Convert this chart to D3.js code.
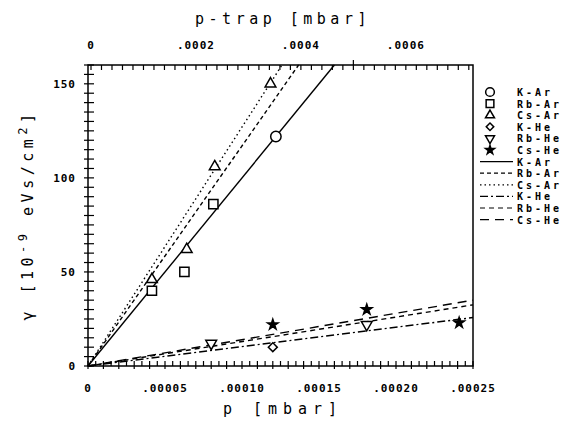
<!DOCTYPE html>
<html>
<head>
<meta charset="utf-8">
<script src="https://cdn.jsdelivr.net/npm/d3@7"></script>
<style>
  body { margin: 0; background: #fff; }
  text { font-family: "DejaVu Sans Mono", monospace; fill: #000; }
</style>
</head>
<body>
<div id="chart"></div>
<script>
// measured points, p in mbar, gamma in 1e-9 eVs/cm2
const series = ['K-Ar', 'Rb-Ar', 'Cs-Ar', 'K-He', 'Rb-He', 'Cs-He'];
const pKAr = [0.000122], gKAr = [122];
const pRbAr = [0.0000415, 0.0000626, 0.0000814], gRbAr = [40, 50, 86];
const pCsAr = [0.0000415, 0.0000641, 0.0000823, 0.0001185], gCsAr = [46, 62, 106, 150];
const pKHe = [0.00012], gKHe = [10];
const pRbHe = [0.00008, 0.000181], gRbHe = [12, 22];
const pCsHe = [0.00012, 0.000181, 0.000241], gCsHe = [22, 30, 23];
// slopes of the fitted lines through the origin (gamma per mbar)
const slopes = [1.0e6, 1.17e6, 1.27e6, 1.03e5, 1.3e5, 1.4e5];

const bottomTicks = [0, 0.00005, 0.0001, 0.00015, 0.0002, 0.00025];
const bottomLabels = ['0', '.00005', '.00010', '.00015', '.00020', '.00025'];
const topTicks = [0, 0.0002, 0.0004, 0.0006];
const topLabels = ['0', '.0002', '.0004', '.0006'];
const yTicks = [0, 50, 100, 150];

const width = 572, height = 423;
const plotL = 88, plotR = 473, plotT = 65, plotB = 366;

const svg = d3.select('#chart').append('svg')
    .attr('width', width).attr('height', height);

const x = d3.scaleLinear().domain([0, 0.00025]).range([plotL, plotR]);
const xTop = d3.scaleLinear().domain([0, 0.000728]).range([plotL + 3, plotR]);
const y = d3.scaleLinear().domain([0, 160]).range([plotB, plotT]);

// frame
svg.append('rect')
    .attr('x', plotL).attr('y', plotT)
    .attr('width', plotR - plotL).attr('height', plotB - plotT)
    .attr('fill', 'none').attr('stroke', '#000').attr('stroke-width', 1.5);

// bottom minor ticks every .000005
const bt = d3.range(0, 0.00025001, 0.000005);
svg.append('g').selectAll('line').data(bt).enter().append('line')
    .attr('x1', d => x(d)).attr('x2', d => x(d))
    .attr('y1', plotB - 5)
    .attr('y2', (d, i) => i % 2 === 0 ? plotB + 3 : plotB)
    .attr('stroke', '#000').attr('stroke-width', 1.2);

svg.append('g').selectAll('text').data(bottomTicks).enter().append('text')
    .attr('x', d => x(d)).attr('y', 392)
    .attr('text-anchor', 'middle')
    .attr('font-size', 11).attr('font-weight', 'bold')
    .attr('letter-spacing', 1)
    .text((d, i) => bottomLabels[i]);

// top axis
const tt = d3.range(0, 0.000721, 0.00002);
svg.append('g').selectAll('line').data(tt).enter().append('line')
    .attr('x1', d => xTop(d)).attr('x2', d => xTop(d))
    .attr('y1', d => Math.abs(d - 0.0005) < 1e-9 ? plotT - 5 : plotT)
    .attr('y2', plotT + 5)
    .attr('stroke', '#000').attr('stroke-width', 1.2);

svg.append('g').selectAll('text').data(topTicks).enter().append('text')
    .attr('x', d => xTop(d)).attr('y', 49)
    .attr('text-anchor', 'middle')
    .attr('font-size', 11).attr('font-weight', 'bold')
    .attr('letter-spacing', 1)
    .text((d, i) => topLabels[i]);

// left ticks every 5
const lt = d3.range(0, 161, 5);
svg.append('g').selectAll('line').data(lt).enter().append('line')
    .attr('x1', plotL - 4).attr('x2', plotL + 6)
    .attr('y1', d => y(d)).attr('y2', d => y(d))
    .attr('stroke', '#000').attr('stroke-width', 1.2);

svg.append('g').selectAll('text').data(yTicks).enter().append('text')
    .attr('x', 76).attr('y', d => y(d) + 4)
    .attr('text-anchor', 'end')
    .attr('font-size', 11).attr('font-weight', 'bold')
    .attr('letter-spacing', 1)
    .text(d => d);

// axis titles
svg.append('text')
    .attr('x', 283).attr('y', 24)
    .attr('text-anchor', 'middle')
    .attr('font-size', 15).attr('letter-spacing', 4.5)
    .text('p-trap [mbar]');

svg.append('text')
    .attr('x', 283).attr('y', 414)
    .attr('text-anchor', 'middle')
    .attr('font-size', 15).attr('letter-spacing', 6)
    .text('p [mbar]');

const yl = svg.append('text')
    .attr('transform', 'translate(33,215) rotate(-90)')
    .attr('text-anchor', 'middle')
    .attr('font-size', 15).attr('letter-spacing', 4.5);
yl.append('tspan').text('γ [10');
yl.append('tspan').attr('dy', -6).attr('font-size', 12).text('-9');
yl.append('tspan').attr('dy', 6).text(' eVs/cm');
yl.append('tspan').attr('dy', -6).attr('font-size', 12).text('2');
yl.append('tspan').attr('dy', 6).text(']');

// fitted lines
const dashes = ['none', '4,3', '1.5,3', '8,3,2,3', '5,4', '9,6'];
const pMax = 0.00025, gMax = 160;
slopes.forEach((s, i) => {
    const pEnd = Math.min(pMax, gMax / s);
    svg.append('line')
        .attr('x1', x(0)).attr('y1', y(0))
        .attr('x2', x(pEnd)).attr('y2', y(s * pEnd))
        .attr('stroke', '#000').attr('stroke-width', 1.4)
        .attr('stroke-dasharray', dashes[i]);
});

// markers
const shapes = [d3.symbolCircle, d3.symbolSquare, d3.symbolTriangle,
                d3.symbolSquare, d3.symbolTriangle, d3.symbolStar];
const sizes = [85, 85, 50, 40, 50, 34];
const rot = [0, 0, 0, 45, 180, 0];
const fills = ['#fff', '#fff', '#fff', '#fff', '#fff', '#000'];
const pts = [[pKAr, gKAr], [pRbAr, gRbAr], [pCsAr, gCsAr],
             [pKHe, gKHe], [pRbHe, gRbHe], [pCsHe, gCsHe]];

function marker(g, i, cx, cy, k) {
    g.append('path')
        .attr('d', d3.symbol().type(shapes[i]).size(sizes[i] * k)())
        .attr('transform', `translate(${cx},${cy}) rotate(${rot[i]})`)
        .attr('fill', fills[i]).attr('stroke', '#000').attr('stroke-width', 1.5);
}

const mg = svg.append('g');
pts.forEach(([ps, gs], i) => {
    ps.forEach((p, j) => marker(mg, i, x(p), y(gs[j]), 1));
});

// legend
const lg = svg.append('g');
const row0 = 92, rowH = 11.6;
series.forEach((name, i) => {
    const yy = row0 + i * rowH;
    marker(lg, i, 490, yy, 0.7);
    lg.append('text').attr('x', 517).attr('y', yy + 4)
        .attr('font-size', 10).attr('font-weight', 'bold')
        .attr('letter-spacing', 3)
        .text(name);
});
series.forEach((name, i) => {
    const yy = row0 + (i + 6) * rowH;
    lg.append('line').attr('x1', 480).attr('x2', 513)
        .attr('y1', yy).attr('y2', yy)
        .attr('stroke', '#000').attr('stroke-width', 1.2)
        .attr('stroke-dasharray', dashes[i]);
    lg.append('text').attr('x', 517).attr('y', yy + 4)
        .attr('font-size', 10).attr('font-weight', 'bold')
        .attr('letter-spacing', 3)
        .text(name);
});
</script>
</body>
</html>
